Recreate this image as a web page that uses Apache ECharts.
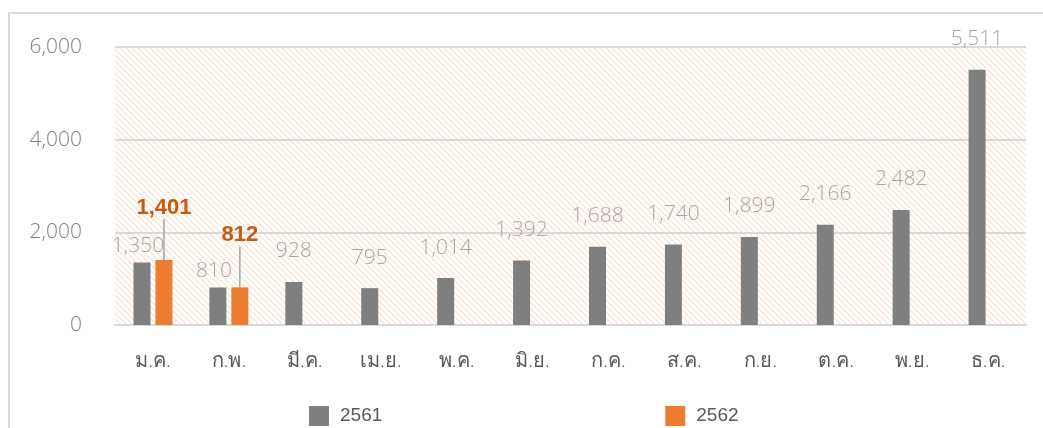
<!DOCTYPE html>
<html>
<head>
<meta charset="utf-8">
<script src="https://cdn.jsdelivr.net/npm/echarts@6/dist/echarts.min.js"></script>
<style>
  html, body { margin: 0; padding: 0; background: #fff; }
  #chart { width: 1043px; height: 428px; }
</style>
</head>
<body>
<div id="chart"></div>
<script>
const months = ['ม.ค.', 'ก.พ.', 'มี.ค.', 'เม.ย.', 'พ.ค.', 'มิ.ย.', 'ก.ค.', 'ส.ค.', 'ก.ย.', 'ต.ค.', 'พ.ย.', 'ธ.ค.'];
const values2561 = [1350, 810, 928, 795, 1014, 1392, 1688, 1740, 1899, 2166, 2482, 5511];
const values2562 = [1401, 812];
const seriesNames = ['2561', '2562'];
const yTicks = { min: 0, max: 6000, interval: 2000 };

const FONT = '"Open Sans", Roboto, sans-serif';
const fmt = v => v.toLocaleString('en-US');

// diagonal hatch for the plot background
const makeHatch = () => {
  const c = document.createElement('canvas');
  c.width = 6;
  c.height = 6;
  const ctx = c.getContext('2d');
  ctx.fillStyle = '#ffffff';
  ctx.fillRect(0, 0, 6, 6);
  ctx.strokeStyle = '#fcdfcd';
  ctx.lineWidth = 1.2;
  ctx.beginPath();
  ctx.moveTo(-1, -1); ctx.lineTo(7, 7);
  ctx.moveTo(-4, 2); ctx.lineTo(4, 10);
  ctx.moveTo(2, -4); ctx.lineTo(10, 4);
  ctx.stroke();
  return c;
};

const chart = echarts.init(document.getElementById('chart'));

const option = {
  animation: false,
  textStyle: { fontFamily: FONT },
  graphic: [{
    type: 'rect',
    shape: { x: 9, y: 13, width: 1200, height: 600 },
    style: { fill: 'none', stroke: '#d9d9d9', lineWidth: 2 },
    silent: true
  }],
  grid: {
    left: 115,
    right: 17,
    top: 47,
    bottom: 103,
    show: true,
    borderWidth: 0,
    backgroundColor: { image: makeHatch(), repeat: 'repeat' }
  },
  legend: {
    left: 304,
    top: 401,
    itemWidth: 20,
    itemHeight: 20,
    itemGap: 283,
    icon: 'rect',
    data: seriesNames,
    textStyle: { fontSize: 19, color: '#595959', fontFamily: '"Liberation Sans", Arial, sans-serif', padding: [0, 0, 0, 6] }
  },
  xAxis: {
    type: 'category',
    data: months,
    axisLine: { lineStyle: { color: '#d9d9d9', width: 2 } },
    axisTick: { show: false },
    axisLabel: { fontSize: 20, color: '#595959', margin: 26, fontWeight: 300 }
  },
  yAxis: {
    type: 'value',
    min: yTicks.min,
    max: yTicks.max,
    interval: yTicks.interval,
    axisLine: { show: false },
    axisTick: { show: false },
    axisLabel: { fontSize: 21, color: '#7f7f7f', margin: 33, fontWeight: 300, formatter: v => fmt(v) },
    splitLine: { lineStyle: { color: '#d9d9d9', width: 2 } }
  },
  series: [
    {
      name: seriesNames[0],
      type: 'bar',
      barWidth: 17,
      barGap: '29%',
      itemStyle: { color: '#7f7f7f' },
      data: values2561.map((v, i) => i < values2562.length
        ? { value: v, label: { offset: [-4, 14] } }
        : v),
      label: {
        show: true,
        position: 'top',
        distance: 20,
        fontSize: 21,
        fontWeight: 300,
        color: '#a6a6a6',
        formatter: p => fmt(p.value)
      }
    },
    {
      name: seriesNames[1],
      type: 'bar',
      barWidth: 17,
      itemStyle: { color: '#ed7d31' },
      data: values2562,
      label: {
        show: true,
        position: 'top',
        distance: 5,
        fontSize: 22,
        fontWeight: 'bold',
        fontFamily: '"Liberation Sans", Arial, sans-serif',
        color: '#c55a11',
        formatter: p => fmt(p.value)
      },
      labelLayout: { dy: -36 },
      labelLine: { show: true, lineStyle: { color: '#a6a6a6', width: 1.5 } }
    }
  ]
};

chart.setOption(option);
</script>
</body>
</html>
